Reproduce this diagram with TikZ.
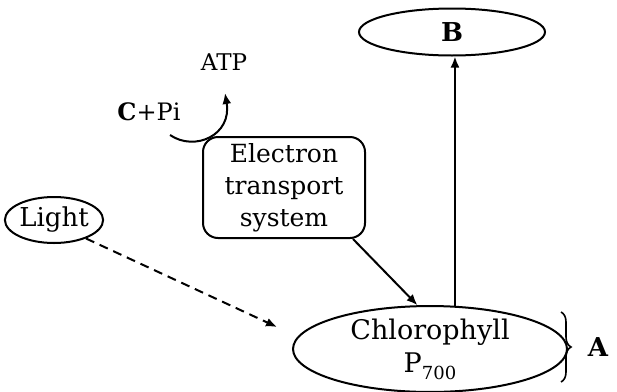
\documentclass[tikz,border=0pt]{standalone}
\usepackage{fontspec}
\setmainfont{DejaVu Serif}
\usetikzlibrary{shapes.geometric,arrows.meta,decorations.pathreplacing}
\begin{document}
\begin{tikzpicture}[x=1pt,y=-1pt,
  line width=2pt,
  tip/.style={-{Latex[length=11pt,width=9pt]}},
  oval/.style={draw,ellipse,inner sep=0pt},
  lbl/.style={font=\fontsize{25}{32}\selectfont,inner sep=0pt}]
\useasboundingbox (0,0) rectangle (617,391);
% nodes
\node[oval,minimum width=186pt,minimum height=47pt,font=\fontsize{26}{32}\selectfont\bfseries] (B) at (452,32) {B};
\node[oval,minimum width=274pt,minimum height=82pt,align=center,font=\fontsize{27}{33}\selectfont] (chl) at (430,349)
  {Chlorophyll\\P\raisebox{-7pt}{\fontsize{18}{18}\selectfont 700}};
\node[draw,rounded corners=15pt,minimum width=162pt,minimum height=101pt,align=center,inner sep=0pt,font=\fontsize{25}{32}\selectfont] (ets) at (284,187.5)
  {Electron\\transport\\system};
\node[oval,minimum width=90pt,minimum height=46pt,font=\fontsize{26}{32}\selectfont] (light) at (54,220) {Light};
\node[lbl,font=\fontsize{23}{28}\selectfont] (atp) at (224,62) {ATP};
\node[lbl,font=\fontsize{24}{28}\selectfont] (cpi) at (149,112) {\textbf{C}+Pi};
\node[lbl,font=\fontsize{26}{32}\selectfont\bfseries] (A) at (598,347) {A};
% free ends
\coordinate (lt) at (277,327);
\coordinate (cs) at (170,135);
\coordinate (ce) at (225,93);
% connectors
\draw[tip] (chl.60) -- (chl.60 |- B.south);
\draw[tip] ([xshift=-13pt]ets.south east) -- (chl.106);
\draw[tip,dash pattern=on 9pt off 6pt] (light.-30) -- (lt);
\draw[tip] (cs) .. controls (195,152) and (232,135) .. (ce);
% brace
\draw[line width=1.6pt,decorate,decoration={brace,amplitude=10pt}] (561,312) -- (561,382);
\end{tikzpicture}
\end{document}
